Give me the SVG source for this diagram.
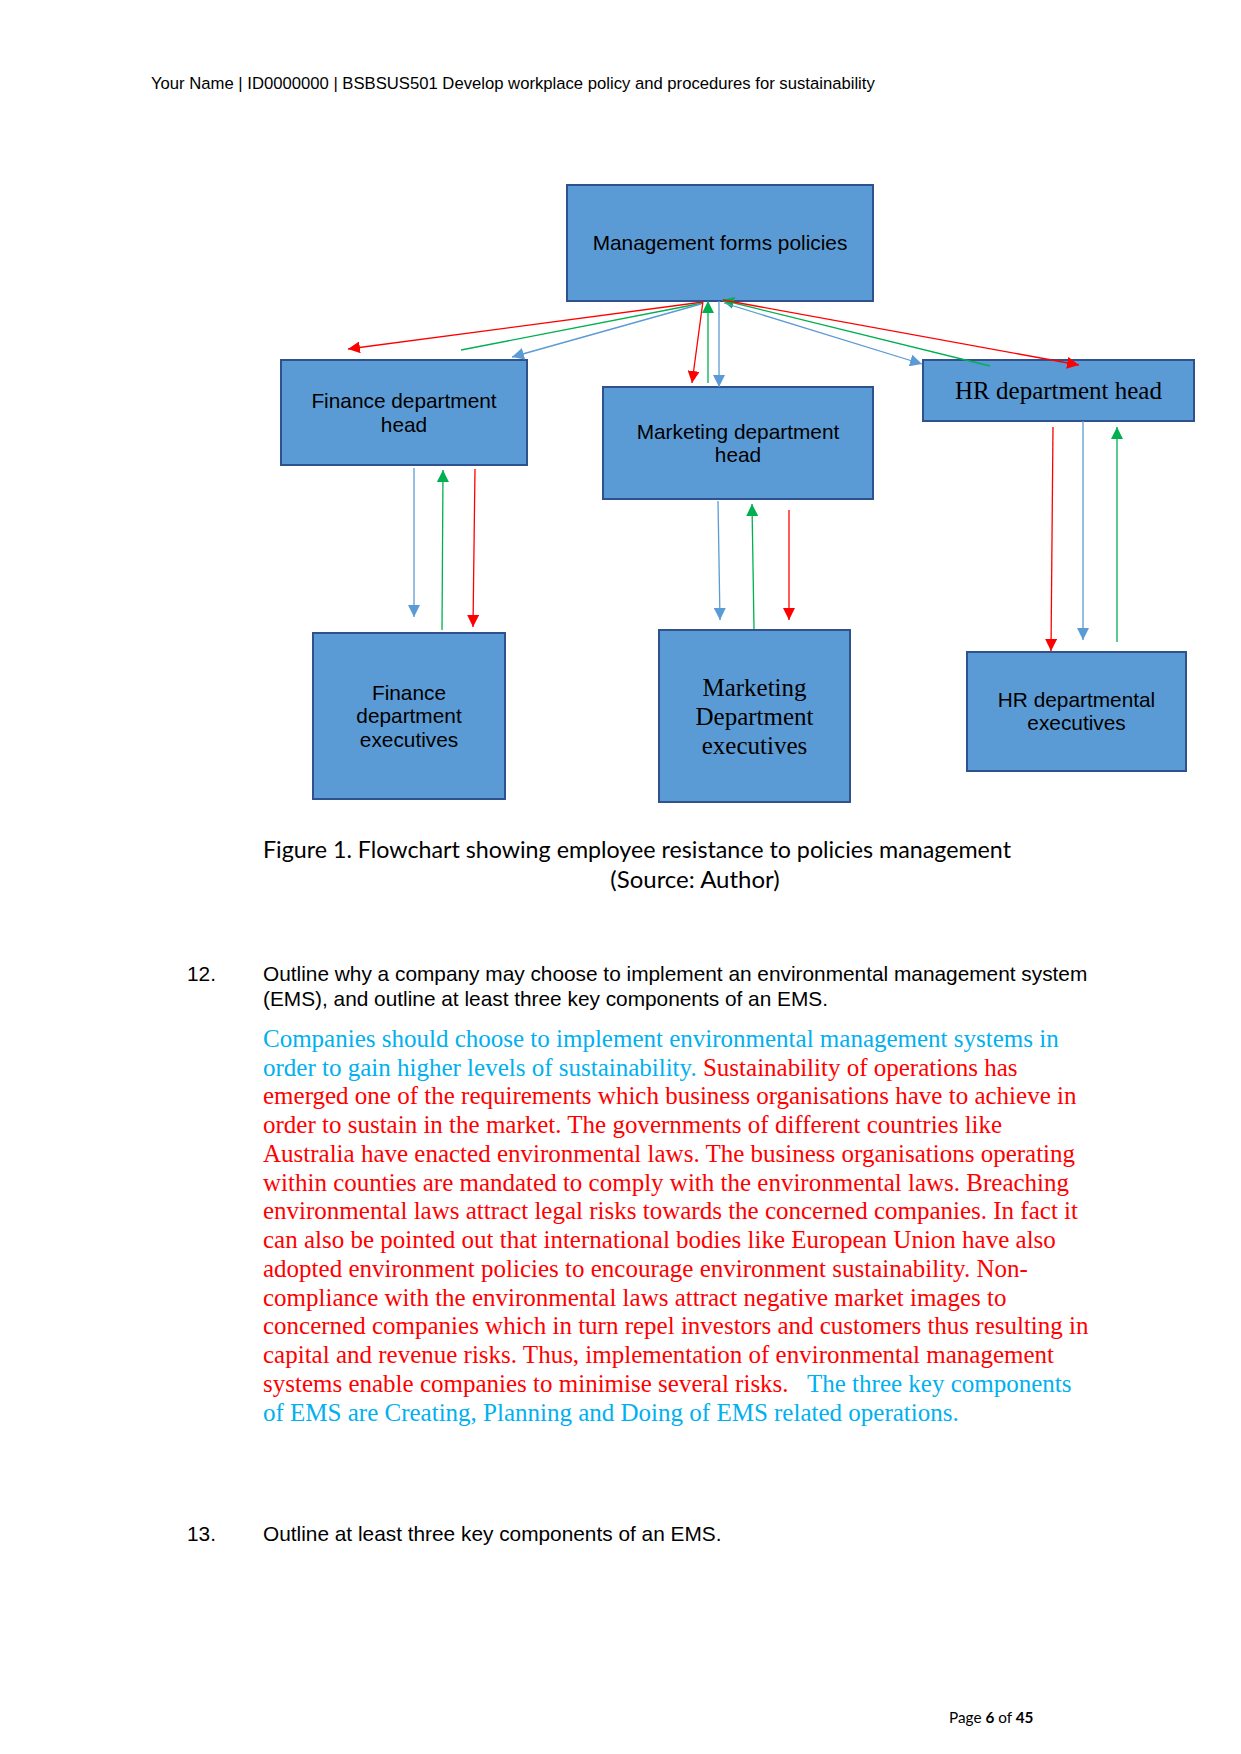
<svg xmlns="http://www.w3.org/2000/svg" width="1241" height="1754" viewBox="0 0 1241 1754">
<style>
.box{fill:#5B9BD5;stroke:#2F528F;stroke-width:2}
.sans{font-family:"Liberation Sans",Arial,sans-serif;font-size:20.83px;fill:#000}
.serif{font-family:"Liberation Serif","Times New Roman",serif;font-size:25px;fill:#000}
.hdr{font-family:"Liberation Sans",Arial,sans-serif;font-size:16.67px;fill:#000}
.cap{font-family:Lato,"Open Sans",sans-serif;font-size:24px;fill:#000}
.ft{font-family:Lato,"Open Sans",sans-serif;font-size:15.3px;fill:#000}
.para{font-family:"Liberation Serif","Times New Roman",serif;font-size:25px}
.cy{fill:#00B0F0}
.rd{fill:#FF0000}
.c{text-anchor:middle}
.lr{stroke:#FF0000;stroke-width:1.3;fill:none}
.lg{stroke:#00B050;stroke-width:1.3;fill:none}
.lb{stroke:#5B9BD5;stroke-width:1.3;fill:none}
</style>
<defs>
<marker id="mr" viewBox="0 0 12 12" refX="12" refY="6" markerWidth="12" markerHeight="12" markerUnits="userSpaceOnUse" orient="auto"><path d="M0,0 L12,6 L0,12 z" fill="#FF0000"/></marker>
<marker id="mg" viewBox="0 0 12 12" refX="12" refY="6" markerWidth="12" markerHeight="12" markerUnits="userSpaceOnUse" orient="auto"><path d="M0,0 L12,6 L0,12 z" fill="#00B050"/></marker>
<marker id="mb" viewBox="0 0 12 12" refX="12" refY="6" markerWidth="12" markerHeight="12" markerUnits="userSpaceOnUse" orient="auto"><path d="M0,0 L12,6 L0,12 z" fill="#5B9BD5"/></marker>
</defs>
<rect width="1241" height="1754" fill="#fff"/>
<text class="hdr" x="151" y="89">Your Name | ID0000000 | BSBSUS501 Develop workplace policy and procedures for sustainability</text>

<g id="mgmt"><rect class="box" x="567" y="185" width="306" height="116"/><text class="sans c" x="720" y="250">Management forms policies</text></g>
<g id="fin-head"><rect class="box" x="281" y="360" width="246" height="105"/><text class="sans c" x="404" y="408.3">Finance department</text><text class="sans c" x="404" y="431.7">head</text></g>
<g id="mkt-head"><rect class="box" x="603" y="387" width="270" height="112"/><text class="sans c" x="738" y="438.5">Marketing department</text><text class="sans c" x="738" y="461.8">head</text></g>
<g id="hr-head"><rect class="box" x="923" y="360" width="271" height="61"/><text class="serif c" x="1058.5" y="399.3">HR department head</text></g>
<g id="fin-exec"><rect class="box" x="313" y="633" width="192" height="166"/><text class="sans c" x="409" y="700">Finance</text><text class="sans c" x="409" y="723.3">department</text><text class="sans c" x="409" y="746.7">executives</text></g>
<g id="mkt-exec"><rect class="box" x="659" y="630" width="191" height="172"/><text class="serif c" x="754.5" y="696.3">Marketing</text><text class="serif c" x="754.5" y="725">Department</text><text class="serif c" x="754.5" y="753.7">executives</text></g>
<g id="hr-exec"><rect class="box" x="967" y="652" width="219" height="119"/><text class="sans c" x="1076.5" y="706.7">HR departmental</text><text class="sans c" x="1076.5" y="730">executives</text></g>

<g id="connectors">
<line class="lr" x1="703" y1="302" x2="348" y2="349" marker-end="url(#mr)"/>
<line class="lg" x1="461" y1="350" x2="703" y2="303"/>
<line class="lb" x1="701" y1="304" x2="512" y2="357" marker-end="url(#mb)"/>
<line class="lr" x1="703" y1="301" x2="692" y2="383" marker-end="url(#mr)"/>
<line class="lg" x1="708" y1="383" x2="708" y2="301" marker-end="url(#mg)"/>
<line class="lb" x1="719" y1="301" x2="719" y2="387" marker-end="url(#mb)"/>
<line class="lg" x1="990" y1="366" x2="722" y2="300" marker-end="url(#mg)"/>
<line class="lr" x1="723" y1="300" x2="1079" y2="365" marker-end="url(#mr)"/>
<line class="lb" x1="724" y1="303" x2="922" y2="364" marker-end="url(#mb)"/>
<line class="lb" x1="414" y1="468" x2="414" y2="617" marker-end="url(#mb)"/>
<line class="lg" x1="442" y1="630" x2="443" y2="470" marker-end="url(#mg)"/>
<line class="lr" x1="475" y1="469" x2="473" y2="627" marker-end="url(#mr)"/>
<line class="lb" x1="718" y1="501" x2="720" y2="620" marker-end="url(#mb)"/>
<line class="lg" x1="754" y1="629" x2="752" y2="504" marker-end="url(#mg)"/>
<line class="lr" x1="789" y1="510" x2="789" y2="620" marker-end="url(#mr)"/>
<line class="lr" x1="1053" y1="427" x2="1051" y2="651" marker-end="url(#mr)"/>
<line class="lb" x1="1083" y1="421" x2="1083" y2="640" marker-end="url(#mb)"/>
<line class="lg" x1="1117" y1="642" x2="1117" y2="427" marker-end="url(#mg)"/>
</g>

<text class="cap" x="263" y="857.5" textLength="748" lengthAdjust="spacingAndGlyphs">Figure 1. Flowchart showing employee resistance to policies management</text>
<text class="cap c" x="695" y="887.5">(Source: Author)</text>

<text class="sans" x="187" y="981">12.</text>
<text class="sans" x="263" y="981">Outline why a company may choose to implement an environmental management system</text>
<text class="sans" x="263" y="1006">(EMS), and outline at least three key components of an EMS.</text>

<g class="para">
<text x="263" y="1046.7" class="cy">Companies should choose to implement environmental management systems in</text>
<text x="263" y="1075.5"><tspan class="cy">order to gain higher levels of sustainability.</tspan><tspan class="rd"> Sustainability of operations has</tspan></text>
<text x="263" y="1104.2" class="rd">emerged one of the requirements which business organisations have to achieve in</text>
<text x="263" y="1133" class="rd">order to sustain in the market. The governments of different countries like</text>
<text x="263" y="1161.8" class="rd">Australia have enacted environmental laws. The business organisations operating</text>
<text x="263" y="1190.5" class="rd">within counties are mandated to comply with the environmental laws. Breaching</text>
<text x="263" y="1219.3" class="rd">environmental laws attract legal risks towards the concerned companies. In fact it</text>
<text x="263" y="1248.1" class="rd">can also be pointed out that international bodies like European Union have also</text>
<text x="263" y="1276.9" class="rd">adopted environment policies to encourage environment sustainability. Non-</text>
<text x="263" y="1305.6" class="rd">compliance with the environmental laws attract negative market images to</text>
<text x="263" y="1334.4" class="rd">concerned companies which in turn repel investors and customers thus resulting in</text>
<text x="263" y="1363.2" class="rd">capital and revenue risks. Thus, implementation of environmental management</text>
<text x="263" y="1392"><tspan class="rd">systems enable companies to minimise several risks.</tspan><tspan class="cy" x="807">The three key components</tspan></text>
<text x="263" y="1420.7" class="cy">of EMS are Creating, Planning and Doing of EMS related operations.</text>
</g>

<text class="sans" x="187" y="1541">13.</text>
<text class="sans" x="263" y="1541">Outline at least three key components of an EMS.</text>

<text class="ft" x="949" y="1723">Page <tspan font-weight="bold">6</tspan> of <tspan font-weight="bold">45</tspan></text>
</svg>
